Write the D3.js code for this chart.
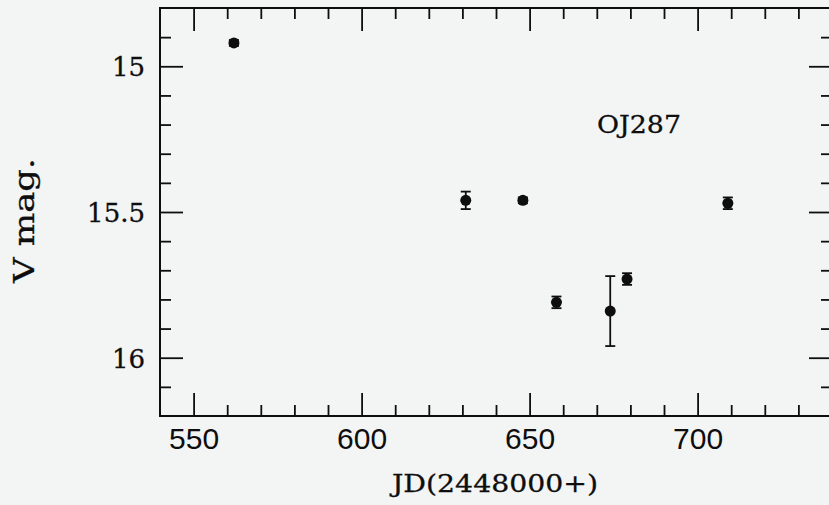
<!DOCTYPE html>
<html>
<head>
<meta charset="utf-8">
<script src="https://cdn.jsdelivr.net/npm/d3@7"></script>
<style>
  html, body { margin: 0; padding: 0; background: #f3f4f4; }
  svg { display: block; }
</style>
</head>
<body>
<div id="wrapper"></div>
<script>
// observations of OJ287 (JD - 2448000, V magnitude, error)
const jd   = [562, 631, 648, 658, 674, 679, 709];
const vmag = [14.92, 15.46, 15.46, 15.81, 15.84, 15.73, 15.47];
const verr = [0.01, 0.03, 0.01, 0.02, 0.12, 0.02, 0.02];

const xMajor = [550, 600, 650, 700];
const xMinor = [560, 570, 580, 590, 610, 620, 630, 640, 660, 670, 680, 690, 710, 720, 730];
const yMajor = [15, 15.5, 16];
const yMinor = [14.9, 15.1, 15.2, 15.3, 15.4, 15.6, 15.7, 15.8, 15.9, 16.1];

const ink = "#0e0e0e";

dimensions = {
  width: 829,
  height: 505,
  margin: {top: 8, left: 160, bottom: 89, right: -3}
}
dimensions.boundedWidth = dimensions.width - dimensions.margin.left - dimensions.margin.right;
dimensions.boundedHeight = dimensions.height - dimensions.margin.top - dimensions.margin.bottom;

wrapper = d3.select("#wrapper").append("svg")
  .attr("width", dimensions.width)
  .attr("height", dimensions.height);
container = wrapper.append("g")
  .attr("transform", `translate(${dimensions.margin.left}, ${dimensions.margin.top})`);

xScale = d3.scaleLinear().domain([540, 740]).range([0, dimensions.boundedWidth]);
yScale = d3.scaleLinear().domain([14.8, 16.2]).range([0, dimensions.boundedHeight]);

// frame
container.append("rect")
  .attr("width", dimensions.boundedWidth)
  .attr("height", dimensions.boundedHeight)
  .attr("fill", "none")
  .attr("stroke", ink)
  .attr("stroke-width", 2);

function styleAxis(g) {
  g.select(".domain").remove();
  g.selectAll(".tick line").attr("stroke", ink).attr("stroke-width", 1.8);
}

// bottom axis
container.append("g")
  .attr("transform", `translate(0, ${dimensions.boundedHeight})`)
  .call(d3.axisBottom(xScale).tickValues(xMajor).tickSize(-23).tickPadding(12).tickFormat(d3.format("")))
  .call(styleAxis)
  .call(g => g.selectAll("text")
    .attr("fill", ink)
    .style("font-family", "'Liberation Sans', Arial, sans-serif")
    .style("font-size", "30px"));
container.append("g")
  .attr("transform", `translate(0, ${dimensions.boundedHeight})`)
  .call(d3.axisBottom(xScale).tickValues(xMinor).tickSize(-11).tickFormat(""))
  .call(styleAxis);

// top axis
container.append("g")
  .call(d3.axisTop(xScale).tickValues(xMajor).tickSize(-23).tickFormat(""))
  .call(styleAxis);
container.append("g")
  .call(d3.axisTop(xScale).tickValues(xMinor).tickSize(-11).tickFormat(""))
  .call(styleAxis);

// left axis
container.append("g")
  .call(d3.axisLeft(yScale).tickValues(yMajor).tickSize(-23).tickPadding(15).tickFormat(d3.format("")))
  .call(styleAxis)
  .call(g => g.selectAll("text")
    .attr("fill", ink)
    .attr("stroke", ink)
    .attr("stroke-width", 0.3)
    .attr("dy", "0.36em")
    .style("font-family", "'DejaVu Serif', serif")
    .style("font-size", "26px"));
container.append("g")
  .call(d3.axisLeft(yScale).tickValues(yMinor).tickSize(-11).tickFormat(""))
  .call(styleAxis);

// right axis
container.append("g")
  .attr("transform", `translate(${dimensions.boundedWidth}, 0)`)
  .call(d3.axisRight(yScale).tickValues(yMajor).tickSize(-23).tickFormat(""))
  .call(styleAxis);
container.append("g")
  .attr("transform", `translate(${dimensions.boundedWidth}, 0)`)
  .call(d3.axisRight(yScale).tickValues(yMinor).tickSize(-11).tickFormat(""))
  .call(styleAxis);

const points = jd.map((d, i) => ({x: d, y: vmag[i], e: verr[i]}));

// error bars
const bars = container.selectAll(".err")
  .data(points)
  .enter()
  .append("g")
  .attr("class", "err")
  .attr("stroke", ink)
  .attr("stroke-width", 1.8);
bars.append("line")
  .attr("x1", d => xScale(d.x)).attr("x2", d => xScale(d.x))
  .attr("y1", d => yScale(d.y - d.e)).attr("y2", d => yScale(d.y + d.e));
bars.append("line")
  .attr("x1", d => xScale(d.x) - 5).attr("x2", d => xScale(d.x) + 5)
  .attr("y1", d => yScale(d.y - d.e)).attr("y2", d => yScale(d.y - d.e));
bars.append("line")
  .attr("x1", d => xScale(d.x) - 5).attr("x2", d => xScale(d.x) + 5)
  .attr("y1", d => yScale(d.y + d.e)).attr("y2", d => yScale(d.y + d.e));

// points
container.selectAll(".dot")
  .data(points)
  .enter()
  .append("circle")
  .attr("class", "dot")
  .attr("cx", d => xScale(d.x))
  .attr("cy", d => yScale(d.y))
  .attr("r", 5.5)
  .attr("fill", ink);

// object name
wrapper.append("text")
  .attr("x", 597)
  .attr("y", 133)
  .attr("textLength", 84)
  .attr("lengthAdjust", "spacingAndGlyphs")
  .attr("fill", ink)
  .attr("stroke", ink)
  .attr("stroke-width", 0.3)
  .style("font-family", "'DejaVu Serif', serif")
  .style("font-size", "25px")
  .text("OJ287");

// X label
wrapper.append("text")
  .attr("x", 392)
  .attr("y", 492)
  .attr("textLength", 206)
  .attr("lengthAdjust", "spacingAndGlyphs")
  .attr("fill", ink)
  .attr("stroke", ink)
  .attr("stroke-width", 0.3)
  .style("font-family", "'DejaVu Serif', serif")
  .style("font-size", "25px")
  .text("JD(2448000+)");

// Y label
wrapper.append("text")
  .attr("transform", "translate(34, 283) rotate(-90)")
  .attr("textLength", 125)
  .attr("lengthAdjust", "spacingAndGlyphs")
  .attr("fill", ink)
  .attr("stroke", ink)
  .attr("stroke-width", 0.3)
  .style("font-family", "'DejaVu Serif', serif")
  .style("font-size", "28px")
  .text("V mag.");
</script>
</body>
</html>
